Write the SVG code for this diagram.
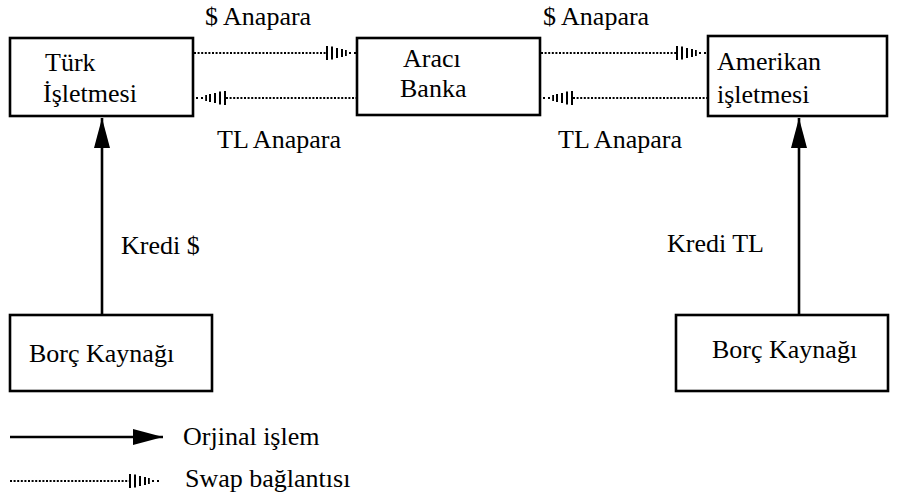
<svg xmlns="http://www.w3.org/2000/svg" xmlns:xlink="http://www.w3.org/1999/xlink" width="897" height="494" viewBox="0 0 897 494">
<style>
.box{fill:#fff;stroke:#000;stroke-width:2.6}
.t{font-family:'Liberation Serif','Times New Roman',Times,'DejaVu Serif',serif;font-size:26px;fill:#000}
.dot{fill:none;stroke:#000;stroke-width:2;stroke-dasharray:2 1.6}
.solid{fill:none;stroke:#000;stroke-width:2.6}
</style>
<defs>
<g id="swapHead">
<rect x="-32" y="-7" width="2" height="14"/>
<rect x="-27" y="-6.5" width="2" height="13"/>
<rect x="-22" y="-5" width="2" height="10"/>
<rect x="-17" y="-4" width="2" height="8"/>
<rect x="-13" y="-3" width="1.8" height="6"/>
<rect x="-9" y="-1" width="2" height="2"/>
<rect x="-4" y="-1" width="2" height="2"/>
</g>
<marker id="solidHead" markerUnits="userSpaceOnUse" markerWidth="32" markerHeight="20" refX="30" refY="8" orient="auto">
<path d="M0,0 L30,8 L0,16 Z" fill="#000"/>
</marker>
</defs>

<g id="connectors" font-family="Liberation Serif, serif">
<line class="dot" x1="194" y1="53" x2="326" y2="53"/>
<use xlink:href="#swapHead" transform="translate(358,53)"/>
<line class="dot" x1="226" y1="98" x2="357" y2="98"/>
<use xlink:href="#swapHead" transform="translate(194,98) scale(-1,1)"/>
<line class="dot" x1="541" y1="53" x2="676" y2="53"/>
<use xlink:href="#swapHead" transform="translate(708,53)"/>
<line class="dot" x1="573" y1="98" x2="707" y2="98"/>
<use xlink:href="#swapHead" transform="translate(541,98) scale(-1,1)"/>
<line class="solid" x1="102" y1="315" x2="102" y2="118" marker-end="url(#solidHead)"/>
<line class="solid" x1="799" y1="315" x2="799" y2="118" marker-end="url(#solidHead)"/>
<text class="t" x="205" y="25">$ Anapara</text>
<text class="t" x="217" y="148">TL Anapara</text>
<text class="t" x="543" y="25">$ Anapara</text>
<text class="t" x="558" y="148">TL Anapara</text>
<text class="t" x="121" y="254">Kredi $</text>
<text class="t" x="667" y="252">Kredi TL</text>
</g>

<g id="turk">
<rect class="box" x="10" y="38" width="183" height="78"/>
<text class="t" x="45" y="71">Türk</text>
<text class="t" x="43" y="102">İşletmesi</text>
</g>
<g id="araci">
<rect class="box" x="357" y="38" width="183" height="77"/>
<text class="t" x="403" y="67">Aracı</text>
<text class="t" x="400" y="97">Banka</text>
</g>
<g id="amerikan">
<rect class="box" x="708" y="36" width="179" height="80"/>
<text class="t" x="717" y="70">Amerikan</text>
<text class="t" x="717" y="103">işletmesi</text>
</g>
<g id="borc1">
<rect class="box" x="10" y="315" width="202" height="76"/>
<text class="t" x="29" y="362">Borç Kaynağı</text>
</g>
<g id="borc2">
<rect class="box" x="676" y="315" width="212" height="76"/>
<text class="t" x="712" y="358">Borç Kaynağı</text>
</g>

<g id="legend">
<line class="solid" x1="10" y1="437" x2="163" y2="437" marker-end="url(#solidHead)"/>
<text class="t" x="183" y="445">Orjinal işlem</text>
<line class="dot" x1="10" y1="481" x2="129" y2="481"/>
<use xlink:href="#swapHead" transform="translate(161,481)"/>
<text class="t" x="185" y="487">Swap bağlantısı</text>
</g>
</svg>
